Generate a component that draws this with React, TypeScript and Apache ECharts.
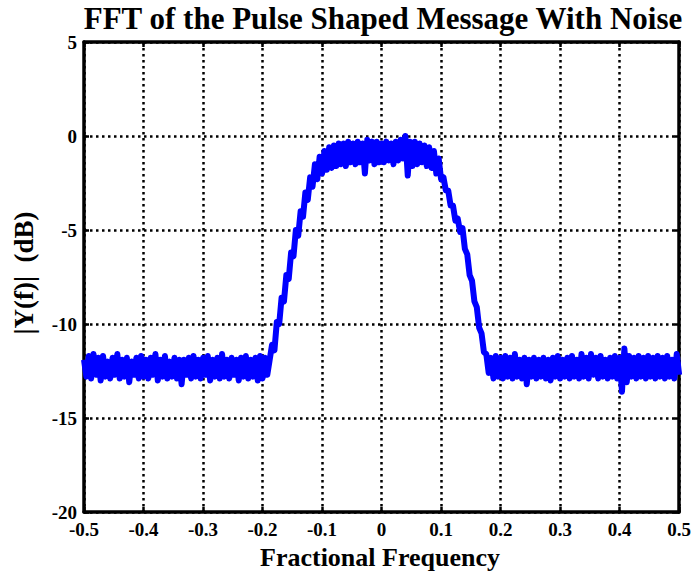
import React, { useEffect, useRef } from "react";
import * as echarts from "echarts";

// FFT bins: 251 points spanning the normalised band [-0.5, 0.5]
const FREQ_START = -0.5;
const FREQ_STEP = 0.004;

// Noise floor below the lower band edge (dB)
const leftFloorDb = [
  -11.9, -12.8, -11.7, -12.9, -11.6, -12.7, -11.8, -13.0, -11.7, -12.8,
  -12.0, -12.9, -11.8, -12.7, -11.6, -12.9, -11.9, -12.8, -11.8, -13.1,
  -12.0, -12.7, -11.8, -12.9, -11.7, -12.8, -11.9, -12.9, -11.8, -12.7,
  -11.6, -13.0, -11.9, -12.8, -11.7, -12.9, -12.0, -12.8, -11.8, -12.9,
  -11.9, -13.2, -11.9, -12.7, -11.8, -12.9, -11.7, -12.8, -11.9, -12.9,
  -11.8, -12.7, -11.7, -13.0, -11.9, -12.8, -11.8, -12.9, -11.6, -12.8,
  -11.9, -12.9, -11.8, -12.7, -11.9, -13.0, -11.8, -12.8, -11.7, -12.9,
  -11.9, -12.8, -11.8, -13.0, -11.7, -12.9, -11.8, -12.7, -11.9,
];

// Rising skirt of the pulse-shaped spectrum (dB)
const leftSkirtDb = [
  -11.1, -11.4, -9.9, -10.0, -8.6, -8.8, -7.4, -7.6, -6.2,
  -6.4, -5.0, -5.3, -4.0, -4.3, -3.0, -3.4, -2.2, -2.7,
];

// Passband (dB)
const passbandDb = [
  -1.5, -2.3, -1.1, -2.0, -0.8, -1.8, -0.6, -1.7, -0.5, -1.6,
  -0.4, -1.5, -0.4, -1.6, -0.3, -1.4, -0.4, -1.5, -0.3, -1.4,
  -0.4, -2.0, -0.2, -1.3, -0.3, -1.5, -0.3, -1.4, -0.4, -1.4,
  -0.3, -1.3, -0.4, -1.5, -0.3, -1.3, -0.2, -1.2, 0.0, -2.1,
  -0.3, -1.6, -0.3, -1.5, -0.4, -1.4, -0.5, -1.6, -0.6, -1.7,
  -0.8, -2.0, -1.2, -2.3,
];

// Falling skirt (dB)
const rightSkirtDb = [
  -2.2, -2.9, -2.9, -3.7, -3.7, -4.5, -4.4, -5.1, -4.9, -6.0,
  -6.3, -7.4, -7.7, -8.8, -9.1, -10.2, -10.5, -11.5, -11.6, -12.6,
];

// Noise floor above the upper band edge (dB)
const rightFloorDb = [
  -11.8, -12.9, -11.7, -12.8, -11.8, -12.9, -11.7, -12.8, -11.8, -12.9,
  -11.6, -12.8, -11.9, -12.9, -11.8, -13.2, -11.9, -12.8, -11.8, -12.9,
  -11.9, -12.8, -11.8, -12.9, -11.9, -13.0, -11.8, -12.8, -11.7, -12.9,
  -11.9, -12.8, -11.8, -12.9, -11.7, -12.8, -11.9, -12.9, -11.6, -12.8,
  -11.8, -12.9, -11.6, -12.7, -11.8, -12.9, -11.7, -12.8, -11.9, -12.9,
  -11.8, -12.8, -11.7, -12.9, -11.8, -13.6, -11.3, -13.1, -11.7, -12.8,
  -11.8, -12.9, -11.7, -12.8, -11.8, -12.9, -11.7, -12.8, -11.8, -12.9,
  -11.7, -12.8, -11.8, -12.9, -11.7, -12.8, -11.9, -12.9, -11.6, -12.7,
];

const spectrumDb = [
  ...leftFloorDb,
  ...leftSkirtDb,
  ...passbandDb,
  ...rightSkirtDb,
  ...rightFloorDb,
];

const TITLE = "FFT of the Pulse Shaped Message With Noise";
const X_NAME = "Fractional Frequency";
const Y_NAME = "|Y(f)|  (dB)";

const FONT = '"Liberation Serif", "Times New Roman", serif';

export default function App() {
  const ref = useRef<HTMLDivElement>(null);

  useEffect(() => {
    if (!ref.current) return;
    const chart = echarts.init(ref.current, undefined, { renderer: "svg" });

    const points = spectrumDb.map((v, i) => [
      Number((FREQ_START + i * FREQ_STEP).toFixed(4)),
      v,
    ]);

    const gridLine = {
      show: true,
      lineStyle: { color: "#000", width: 2.5, type: [2.5, 3.5] as any },
    };
    const tickLabel = {
      color: "#000",
      fontFamily: FONT,
      fontWeight: "bold" as const,
      fontSize: 19,
    };
    const frame = { show: true, onZero: false, lineStyle: { color: "#000", width: 3.5 } };
    const ticks = { show: true, inside: true, length: 5, lineStyle: { color: "#000", width: 2.5 } };

    chart.setOption({
      animation: false,
      backgroundColor: "#fff",
      grid: {
        left: 84,
        right: 14,
        top: 42,
        bottom: 61,
        show: false,
      },
      xAxis: [
        {
          type: "value",
          min: -0.5,
          max: 0.5,
          interval: 0.1,
          position: "bottom",
          axisLine: frame,
          axisTick: ticks,
          axisLabel: { ...tickLabel, margin: 8 },
          splitLine: gridLine,
        },
        {
          type: "value",
          min: -0.5,
          max: 0.5,
          interval: 0.1,
          position: "top",
          axisLine: frame,
          axisTick: ticks,
          axisLabel: { show: false },
          splitLine: { show: false },
        },
      ],
      yAxis: [
        {
          type: "value",
          min: -20,
          max: 5,
          interval: 5,
          position: "left",
          axisLine: frame,
          axisTick: ticks,
          axisLabel: { ...tickLabel, margin: 7 },
          splitLine: gridLine,
        },
        {
          type: "value",
          min: -20,
          max: 5,
          interval: 5,
          position: "right",
          axisLine: frame,
          axisTick: ticks,
          axisLabel: { show: false },
          splitLine: { show: false },
        },
      ],
      series: [
        {
          type: "line",
          data: points,
          showSymbol: false,
          symbol: "none",
          clip: true,
          lineStyle: { color: "#0000ff", width: 6, join: "round" },
          z: 3,
        },
      ],
      graphic: [
        {
          type: "text",
          x: 383,
          y: 18,
          style: {
            text: TITLE,
            fontFamily: FONT,
            fontWeight: "bold",
            fontSize: 31,
            fill: "#000",
            align: "center",
            verticalAlign: "middle",
          },
        },
        {
          type: "text",
          x: 380,
          y: 557,
          style: {
            text: X_NAME,
            fontFamily: FONT,
            fontWeight: "bold",
            fontSize: 26,
            fill: "#000",
            align: "center",
            verticalAlign: "middle",
          },
        },
        {
          type: "text",
          x: 24,
          y: 273,
          rotation: Math.PI / 2,
          style: {
            text: Y_NAME,
            fontFamily: FONT,
            fontWeight: "bold",
            fontSize: 27,
            fill: "#000",
            align: "center",
            verticalAlign: "middle",
          },
        },
      ],
    });

    return () => chart.dispose();
  }, []);

  return (
    <div
      ref={ref}
      style={{ position: "fixed", left: 0, top: 0, width: 694, height: 573, background: "#fff" }}
    />
  );
}
